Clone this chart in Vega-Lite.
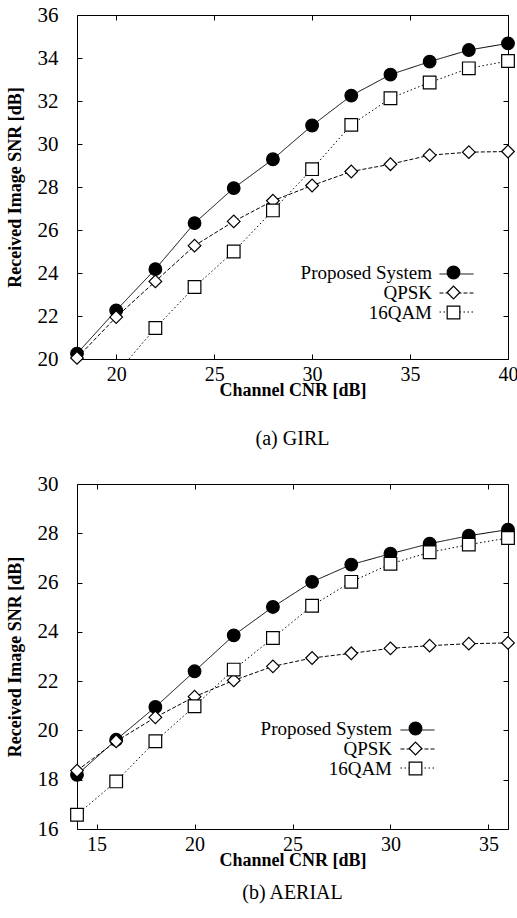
{
  "$schema": "https://vega.github.io/schema/vega-lite/v6.json",
  "padding": {"left": 5, "top": 3, "right": 5, "bottom": 5},
  "datasets": {
    "girl": [
      {"cnr": 18, "snr": 20.25, "series": "Proposed System"},
      {"cnr": 20, "snr": 22.26, "series": "Proposed System"},
      {"cnr": 22, "snr": 24.18, "series": "Proposed System"},
      {"cnr": 24, "snr": 26.32, "series": "Proposed System"},
      {"cnr": 26, "snr": 27.95, "series": "Proposed System"},
      {"cnr": 28, "snr": 29.29, "series": "Proposed System"},
      {"cnr": 30, "snr": 30.86, "series": "Proposed System"},
      {"cnr": 32, "snr": 32.25, "series": "Proposed System"},
      {"cnr": 34, "snr": 33.23, "series": "Proposed System"},
      {"cnr": 36, "snr": 33.83, "series": "Proposed System"},
      {"cnr": 38, "snr": 34.37, "series": "Proposed System"},
      {"cnr": 40, "snr": 34.68, "series": "Proposed System"},
      {"cnr": 18, "snr": 20.05, "series": "QPSK"},
      {"cnr": 20, "snr": 21.95, "series": "QPSK"},
      {"cnr": 22, "snr": 23.61, "series": "QPSK"},
      {"cnr": 24, "snr": 25.27, "series": "QPSK"},
      {"cnr": 26, "snr": 26.40, "series": "QPSK"},
      {"cnr": 28, "snr": 27.36, "series": "QPSK"},
      {"cnr": 30, "snr": 28.07, "series": "QPSK"},
      {"cnr": 32, "snr": 28.72, "series": "QPSK"},
      {"cnr": 34, "snr": 29.06, "series": "QPSK"},
      {"cnr": 36, "snr": 29.48, "series": "QPSK"},
      {"cnr": 38, "snr": 29.62, "series": "QPSK"},
      {"cnr": 40, "snr": 29.65, "series": "QPSK"},
      {"cnr": 20, "snr": 19.30, "series": "16QAM"},
      {"cnr": 22, "snr": 21.44, "series": "16QAM"},
      {"cnr": 24, "snr": 23.35, "series": "16QAM"},
      {"cnr": 26, "snr": 25.00, "series": "16QAM"},
      {"cnr": 28, "snr": 26.91, "series": "16QAM"},
      {"cnr": 30, "snr": 28.83, "series": "16QAM"},
      {"cnr": 32, "snr": 30.89, "series": "16QAM"},
      {"cnr": 34, "snr": 32.13, "series": "16QAM"},
      {"cnr": 36, "snr": 32.86, "series": "16QAM"},
      {"cnr": 38, "snr": 33.52, "series": "16QAM"},
      {"cnr": 40, "snr": 33.86, "series": "16QAM"}
    ],
    "aerial": [
      {"cnr": 14, "snr": 18.20, "series": "Proposed System"},
      {"cnr": 16, "snr": 19.62, "series": "Proposed System"},
      {"cnr": 18, "snr": 20.95, "series": "Proposed System"},
      {"cnr": 20, "snr": 22.40, "series": "Proposed System"},
      {"cnr": 22, "snr": 23.86, "series": "Proposed System"},
      {"cnr": 24, "snr": 25.01, "series": "Proposed System"},
      {"cnr": 26, "snr": 26.03, "series": "Proposed System"},
      {"cnr": 28, "snr": 26.73, "series": "Proposed System"},
      {"cnr": 30, "snr": 27.17, "series": "Proposed System"},
      {"cnr": 32, "snr": 27.58, "series": "Proposed System"},
      {"cnr": 34, "snr": 27.90, "series": "Proposed System"},
      {"cnr": 36, "snr": 28.15, "series": "Proposed System"},
      {"cnr": 14, "snr": 18.37, "series": "QPSK"},
      {"cnr": 16, "snr": 19.56, "series": "QPSK"},
      {"cnr": 18, "snr": 20.53, "series": "QPSK"},
      {"cnr": 20, "snr": 21.37, "series": "QPSK"},
      {"cnr": 22, "snr": 22.03, "series": "QPSK"},
      {"cnr": 24, "snr": 22.60, "series": "QPSK"},
      {"cnr": 26, "snr": 22.94, "series": "QPSK"},
      {"cnr": 28, "snr": 23.13, "series": "QPSK"},
      {"cnr": 30, "snr": 23.33, "series": "QPSK"},
      {"cnr": 32, "snr": 23.44, "series": "QPSK"},
      {"cnr": 34, "snr": 23.52, "series": "QPSK"},
      {"cnr": 36, "snr": 23.55, "series": "QPSK"},
      {"cnr": 14, "snr": 16.58, "series": "16QAM"},
      {"cnr": 16, "snr": 17.93, "series": "16QAM"},
      {"cnr": 18, "snr": 19.56, "series": "16QAM"},
      {"cnr": 20, "snr": 20.98, "series": "16QAM"},
      {"cnr": 22, "snr": 22.47, "series": "16QAM"},
      {"cnr": 24, "snr": 23.75, "series": "16QAM"},
      {"cnr": 26, "snr": 25.06, "series": "16QAM"},
      {"cnr": 28, "snr": 26.03, "series": "16QAM"},
      {"cnr": 30, "snr": 26.76, "series": "16QAM"},
      {"cnr": 32, "snr": 27.23, "series": "16QAM"},
      {"cnr": 34, "snr": 27.54, "series": "16QAM"},
      {"cnr": 36, "snr": 27.81, "series": "16QAM"}
    ]
  },
  "config": {
    "font": "Liberation Serif",
    "view": {"stroke": "black", "strokeWidth": 1},
    "axis": {
      "domain": false, "grid": false, "tickColor": "black", "tickSize": -5, "tickWidth": 1,
      "labelFont": "Liberation Serif", "labelFontSize": 21, "labelColor": "black",
      "titleFont": "Liberation Serif", "titleFontSize": 18, "titleFontWeight": "bold", "titleColor": "black",
      "labelFlush": false, "labelOverlap": false
    },
    "axisX": {"labelPadding": 10, "titlePadding": -3, "labelFontSize": 20},
    "axisY": {"labelPadding": 24, "titlePadding": 13},
    "legend": {
      "labelFont": "Liberation Serif", "labelFontSize": 19, "labelColor": "black", "padding": 0
    },
    "title": {"font": "Liberation Serif", "fontSize": 20, "fontWeight": "normal", "color": "black", "anchor": "middle"}
  },
  "resolve": {
    "scale": {"shape": "independent", "fill": "independent", "stroke": "independent", "strokeDash": "independent"},
    "legend": {"shape": "independent", "fill": "independent", "stroke": "independent", "strokeDash": "independent"}
  },
  "spacing": 22,
  "vconcat": [
    {
      "width": 431, "height": 344,
      "data": {"name": "girl"},
      "title": {"text": "(a) GIRL", "orient": "bottom", "offset": 30},
      "layer": [
        {
          "mark": {"type": "line", "clip": true, "color": "black", "strokeWidth": 1},
          "encoding": {
            "x": {"field": "cnr", "type": "quantitative", "scale": {"domain": [18, 40], "nice": false, "zero": false},
                  "axis": {"orient": "bottom", "title": "Channel CNR [dB]", "values": [20, 25, 30, 35, 40]}},
            "y": {"field": "snr", "type": "quantitative", "scale": {"domain": [20, 36], "nice": false, "zero": false},
                  "axis": {"orient": "left", "title": "Received Image SNR [dB]", "values": [20, 22, 24, 26, 28, 30, 32, 34, 36]}},
            "strokeDash": {"field": "series", "type": "nominal", "sort": null,
              "scale": {"range": [[1, 0], [4, 2], [1.5, 2.5]]},
              "legend": {"orient": "none", "legendX": 362, "legendY": 249.5, "title": null, "clipHeight": 19, "rowPadding": 0,
                "symbolType": "stroke", "symbolSize": 1156, "symbolStrokeColor": "black", "symbolStrokeWidth": 1,
                "labelOpacity": 0, "labelColor": "transparent", "labelFontSize": 1, "zindex": 1}}
          }
        },
        {
          "transform": [{"filter": "datum.snr >= 19.9"}],
          "mark": {"type": "point", "filled": true, "strokeWidth": 1.2, "size": 160, "opacity": 1},
          "encoding": {
            "x": {"field": "cnr", "type": "quantitative", "axis": null},
            "y": {"field": "snr", "type": "quantitative", "axis": null},
            "shape": {"field": "series", "type": "nominal",
              "scale": {"domain": ["Proposed System", "QPSK", "16QAM"], "range": ["circle", "diamond", "square"]},
              "legend": {"orient": "none", "legendX": 367, "legendY": 248, "title": null, "rowPadding": 0,
                "symbolSize": 160, "symbolStrokeWidth": 1.2, "labelAlign": "right", "labelOffset": -31, "zindex": 2}},
            "fill": {"field": "series", "type": "nominal",
              "scale": {"domain": ["Proposed System", "QPSK", "16QAM"], "range": ["black", "white", "white"]},
              "legend": {"orient": "none", "legendX": 367, "legendY": 248, "title": null, "rowPadding": 0,
                "symbolSize": 160, "symbolStrokeWidth": 1.2, "labelAlign": "right", "labelOffset": -31, "zindex": 2}},
            "stroke": {"field": "series", "type": "nominal",
              "scale": {"domain": ["Proposed System", "QPSK", "16QAM"], "range": ["black", "black", "black"]},
              "legend": {"orient": "none", "legendX": 367, "legendY": 248, "title": null, "rowPadding": 0,
                "symbolSize": 160, "symbolStrokeWidth": 1.2, "labelAlign": "right", "labelOffset": -31, "zindex": 2}}
          }
        },
        {
          "mark": {"type": "point", "opacity": 0},
          "encoding": {
            "x": {"field": "cnr", "type": "quantitative", "axis": {"orient": "top", "labels": false, "title": null, "values": [20, 25, 30, 35, 40]}},
            "y": {"field": "snr", "type": "quantitative", "axis": {"orient": "right", "labels": false, "title": null, "values": [20, 22, 24, 26, 28, 30, 32, 34, 36]}}
          }
        }
      ]
    },
    {
      "width": 431, "height": 345,
      "data": {"name": "aerial"},
      "title": {"text": "(b) AERIAL", "orient": "bottom", "offset": 14},
      "layer": [
        {
          "mark": {"type": "line", "clip": true, "color": "black", "strokeWidth": 1},
          "encoding": {
            "x": {"field": "cnr", "type": "quantitative", "scale": {"domain": [14, 36], "nice": false, "zero": false},
                  "axis": {"orient": "bottom", "title": "Channel CNR [dB]", "values": [15, 20, 25, 30, 35]}},
            "y": {"field": "snr", "type": "quantitative", "scale": {"domain": [16, 30], "nice": false, "zero": false},
                  "axis": {"orient": "left", "title": "Received Image SNR [dB]", "values": [16, 18, 20, 22, 24, 26, 28, 30]}},
            "strokeDash": {"field": "series", "type": "nominal", "sort": null,
              "scale": {"range": [[1, 0], [4, 2], [1.5, 2.5]]},
              "legend": {"orient": "none", "legendX": 323, "legendY": 236.5, "title": null, "clipHeight": 19, "rowPadding": 0,
                "symbolType": "stroke", "symbolSize": 1156, "symbolStrokeColor": "black", "symbolStrokeWidth": 1,
                "labelOpacity": 0, "labelColor": "transparent", "labelFontSize": 1, "zindex": 1}}
          }
        },
        {
          "mark": {"type": "point", "filled": true, "strokeWidth": 1.2, "size": 160, "opacity": 1},
          "encoding": {
            "x": {"field": "cnr", "type": "quantitative", "axis": null},
            "y": {"field": "snr", "type": "quantitative", "axis": null},
            "shape": {"field": "series", "type": "nominal",
              "scale": {"domain": ["Proposed System", "QPSK", "16QAM"], "range": ["circle", "diamond", "square"]},
              "legend": {"orient": "none", "legendX": 329, "legendY": 235, "title": null, "rowPadding": 0,
                "symbolSize": 160, "symbolStrokeWidth": 1.2, "labelAlign": "right", "labelOffset": -33, "zindex": 2}},
            "fill": {"field": "series", "type": "nominal",
              "scale": {"domain": ["Proposed System", "QPSK", "16QAM"], "range": ["black", "white", "white"]},
              "legend": {"orient": "none", "legendX": 329, "legendY": 235, "title": null, "rowPadding": 0,
                "symbolSize": 160, "symbolStrokeWidth": 1.2, "labelAlign": "right", "labelOffset": -33, "zindex": 2}},
            "stroke": {"field": "series", "type": "nominal",
              "scale": {"domain": ["Proposed System", "QPSK", "16QAM"], "range": ["black", "black", "black"]},
              "legend": {"orient": "none", "legendX": 329, "legendY": 235, "title": null, "rowPadding": 0,
                "symbolSize": 160, "symbolStrokeWidth": 1.2, "labelAlign": "right", "labelOffset": -33, "zindex": 2}}
          }
        },
        {
          "mark": {"type": "point", "opacity": 0},
          "encoding": {
            "x": {"field": "cnr", "type": "quantitative", "axis": {"orient": "top", "labels": false, "title": null, "values": [15, 20, 25, 30, 35]}},
            "y": {"field": "snr", "type": "quantitative", "axis": {"orient": "right", "labels": false, "title": null, "values": [16, 18, 20, 22, 24, 26, 28, 30]}}
          }
        }
      ]
    }
  ]
}
